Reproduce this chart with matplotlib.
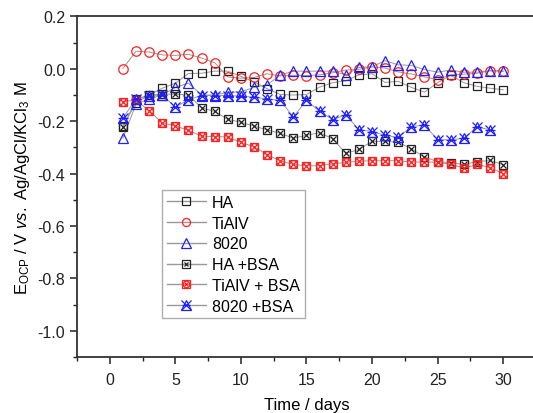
import matplotlib
matplotlib.use("Agg")
import matplotlib.pyplot as plt
from matplotlib.lines import Line2D
from matplotlib.ticker import MultipleLocator
from matplotlib.legend_handler import HandlerTuple

plt.rcParams['font.family'] = ['Liberation Sans', 'DejaVu Sans']
plt.rcParams['mathtext.fontset'] = 'custom'
plt.rcParams['mathtext.rm'] = 'Liberation Sans'
plt.rcParams['mathtext.it'] = 'Liberation Sans:italic'

days = list(range(1, 31))
days_8020_bsa = list(range(1, 30))

ha = [-0.220, -0.130, -0.100, -0.074, -0.055, -0.018, -0.017, -0.009, -0.009, -0.029,
      -0.050, -0.076, -0.098, -0.100, -0.098, -0.070, -0.053, -0.046, -0.023, -0.019,
      -0.052, -0.048, -0.071, -0.089, -0.053, -0.025, -0.053, -0.067, -0.074, -0.080]
tialv = [0.001, 0.067, 0.064, 0.053, 0.051, 0.055, 0.041, 0.023, -0.031, -0.036,
         -0.033, -0.019, -0.027, -0.025, -0.026, -0.023, -0.015, -0.005, -0.002, 0.007,
         0.003, -0.012, -0.020, -0.031, -0.041, -0.023, -0.021, -0.017, -0.007, -0.008]
s8020 = [-0.265, -0.135, -0.115, -0.100, -0.071, -0.055, -0.100, -0.100, -0.090, -0.088,
         -0.071, -0.061, -0.024, -0.009, -0.009, -0.009, -0.009, -0.023, 0.005, 0.008,
         0.031, 0.015, 0.013, -0.003, -0.013, -0.005, -0.013, -0.013, -0.008, -0.010]
ha_bsa = [-0.223, -0.117, -0.100, -0.097, -0.097, -0.100, -0.149, -0.163, -0.193, -0.204,
          -0.219, -0.233, -0.246, -0.265, -0.254, -0.244, -0.267, -0.323, -0.308, -0.277,
          -0.277, -0.280, -0.305, -0.337, -0.354, -0.359, -0.365, -0.354, -0.350, -0.366]
tialv_bsa = [-0.125, -0.120, -0.160, -0.206, -0.218, -0.235, -0.257, -0.259, -0.260, -0.281,
             -0.297, -0.328, -0.351, -0.365, -0.370, -0.370, -0.363, -0.357, -0.353, -0.351,
             -0.351, -0.351, -0.356, -0.356, -0.356, -0.365, -0.379, -0.365, -0.377, -0.400]
s8020_bsa = [-0.188, -0.115, -0.102, -0.100, -0.146, -0.118, -0.102, -0.102, -0.102, -0.105,
             -0.108, -0.115, -0.121, -0.184, -0.121, -0.162, -0.194, -0.176, -0.232, -0.240,
             -0.254, -0.262, -0.221, -0.214, -0.271, -0.271, -0.265, -0.223, -0.232]

labels = ['HA', 'TiAlV', '8020', 'HA +BSA', 'TiAlV + BSA', '8020 +BSA']

fig = plt.figure(figsize=(5.33, 4.14), dpi=100)
ax = fig.add_axes([0.1445, 0.1353, 0.861, 0.8227])

lc = '#999999'
lw = 0.7
ms = 6.2

def series(x, y, markers, color, msz):
    ax.plot(x, y, '-', color=lc, lw=lw, zorder=2)
    hs = [Line2D([], [], color=lc, lw=1.0)]
    for m, s in zip(markers, msz):
        ax.plot(x, y, linestyle='none', marker=m, ms=s, mfc='none', mec=color, mew=0.9, zorder=3)
        hs.append(Line2D([], [], linestyle='none', marker=m, ms=s * 0.85, mfc='none', mec=color, mew=0.9))
    return tuple(hs)

h1 = series(days, ha, ['s'], '#222222', [ms])
h2 = series(days, tialv, ['o'], '#ff2020', [ms + 0.6])
h3 = series(days, s8020, ['^'], '#2020ff', [ms + 1.6])
h4 = series(days, ha_bsa, ['s', 'x'], '#222222', [ms, ms * 0.65])
h5 = series(days, tialv_bsa, ['s', 'o', 'x'], '#ff2020', [ms, ms * 0.9, ms * 0.65])
h6 = series(days_8020_bsa, s8020_bsa, ['^', 'x', '_'], '#2020ff', [ms + 1.6, ms + 1.6, ms + 1])

ax.set_xlim(-2.5, 32.5)
ax.set_ylim(-1.1, 0.2)
ax.xaxis.set_major_locator(MultipleLocator(5))
ax.xaxis.set_minor_locator(MultipleLocator(2.5))
ax.yaxis.set_major_locator(MultipleLocator(0.2))
ax.yaxis.set_minor_locator(MultipleLocator(0.1))
ax.yaxis.set_major_formatter(matplotlib.ticker.FuncFormatter(lambda v, p: f'{v:.1f}'.replace('-0.0', '0.0')))
ax.tick_params(which='major', direction='out', length=5, width=1.1, labelsize=11.5, colors='#222222')
ax.tick_params(which='minor', direction='out', length=3, width=1.0, colors='#222222')
ax.tick_params(axis='x', pad=6)
for s in ax.spines.values():
    s.set_linewidth(1.3)
    s.set_color('#333333')

ax.set_xlabel('Time / days', fontsize=12, labelpad=7)
ax.set_ylabel(r'E$_\mathregular{OCP}$ / V $\mathit{vs.}$ Ag/AgCl/KCl$_\mathregular{3}$ M', fontsize=12, labelpad=4)

leg = ax.legend([h1, h2, h3, h4, h5, h6], labels, handler_map={tuple: HandlerTuple(ndivide=1)},
                loc='upper left', bbox_to_anchor=(0.186, 0.49), fontsize=11.5, frameon=True,
                fancybox=False, edgecolor='#999999', handlelength=2.4, handletextpad=0.4,
                labelspacing=0.36, borderpad=0.3, borderaxespad=0)
leg.get_frame().set_linewidth(1.0)

fig.savefig('out.png', dpi=100)
